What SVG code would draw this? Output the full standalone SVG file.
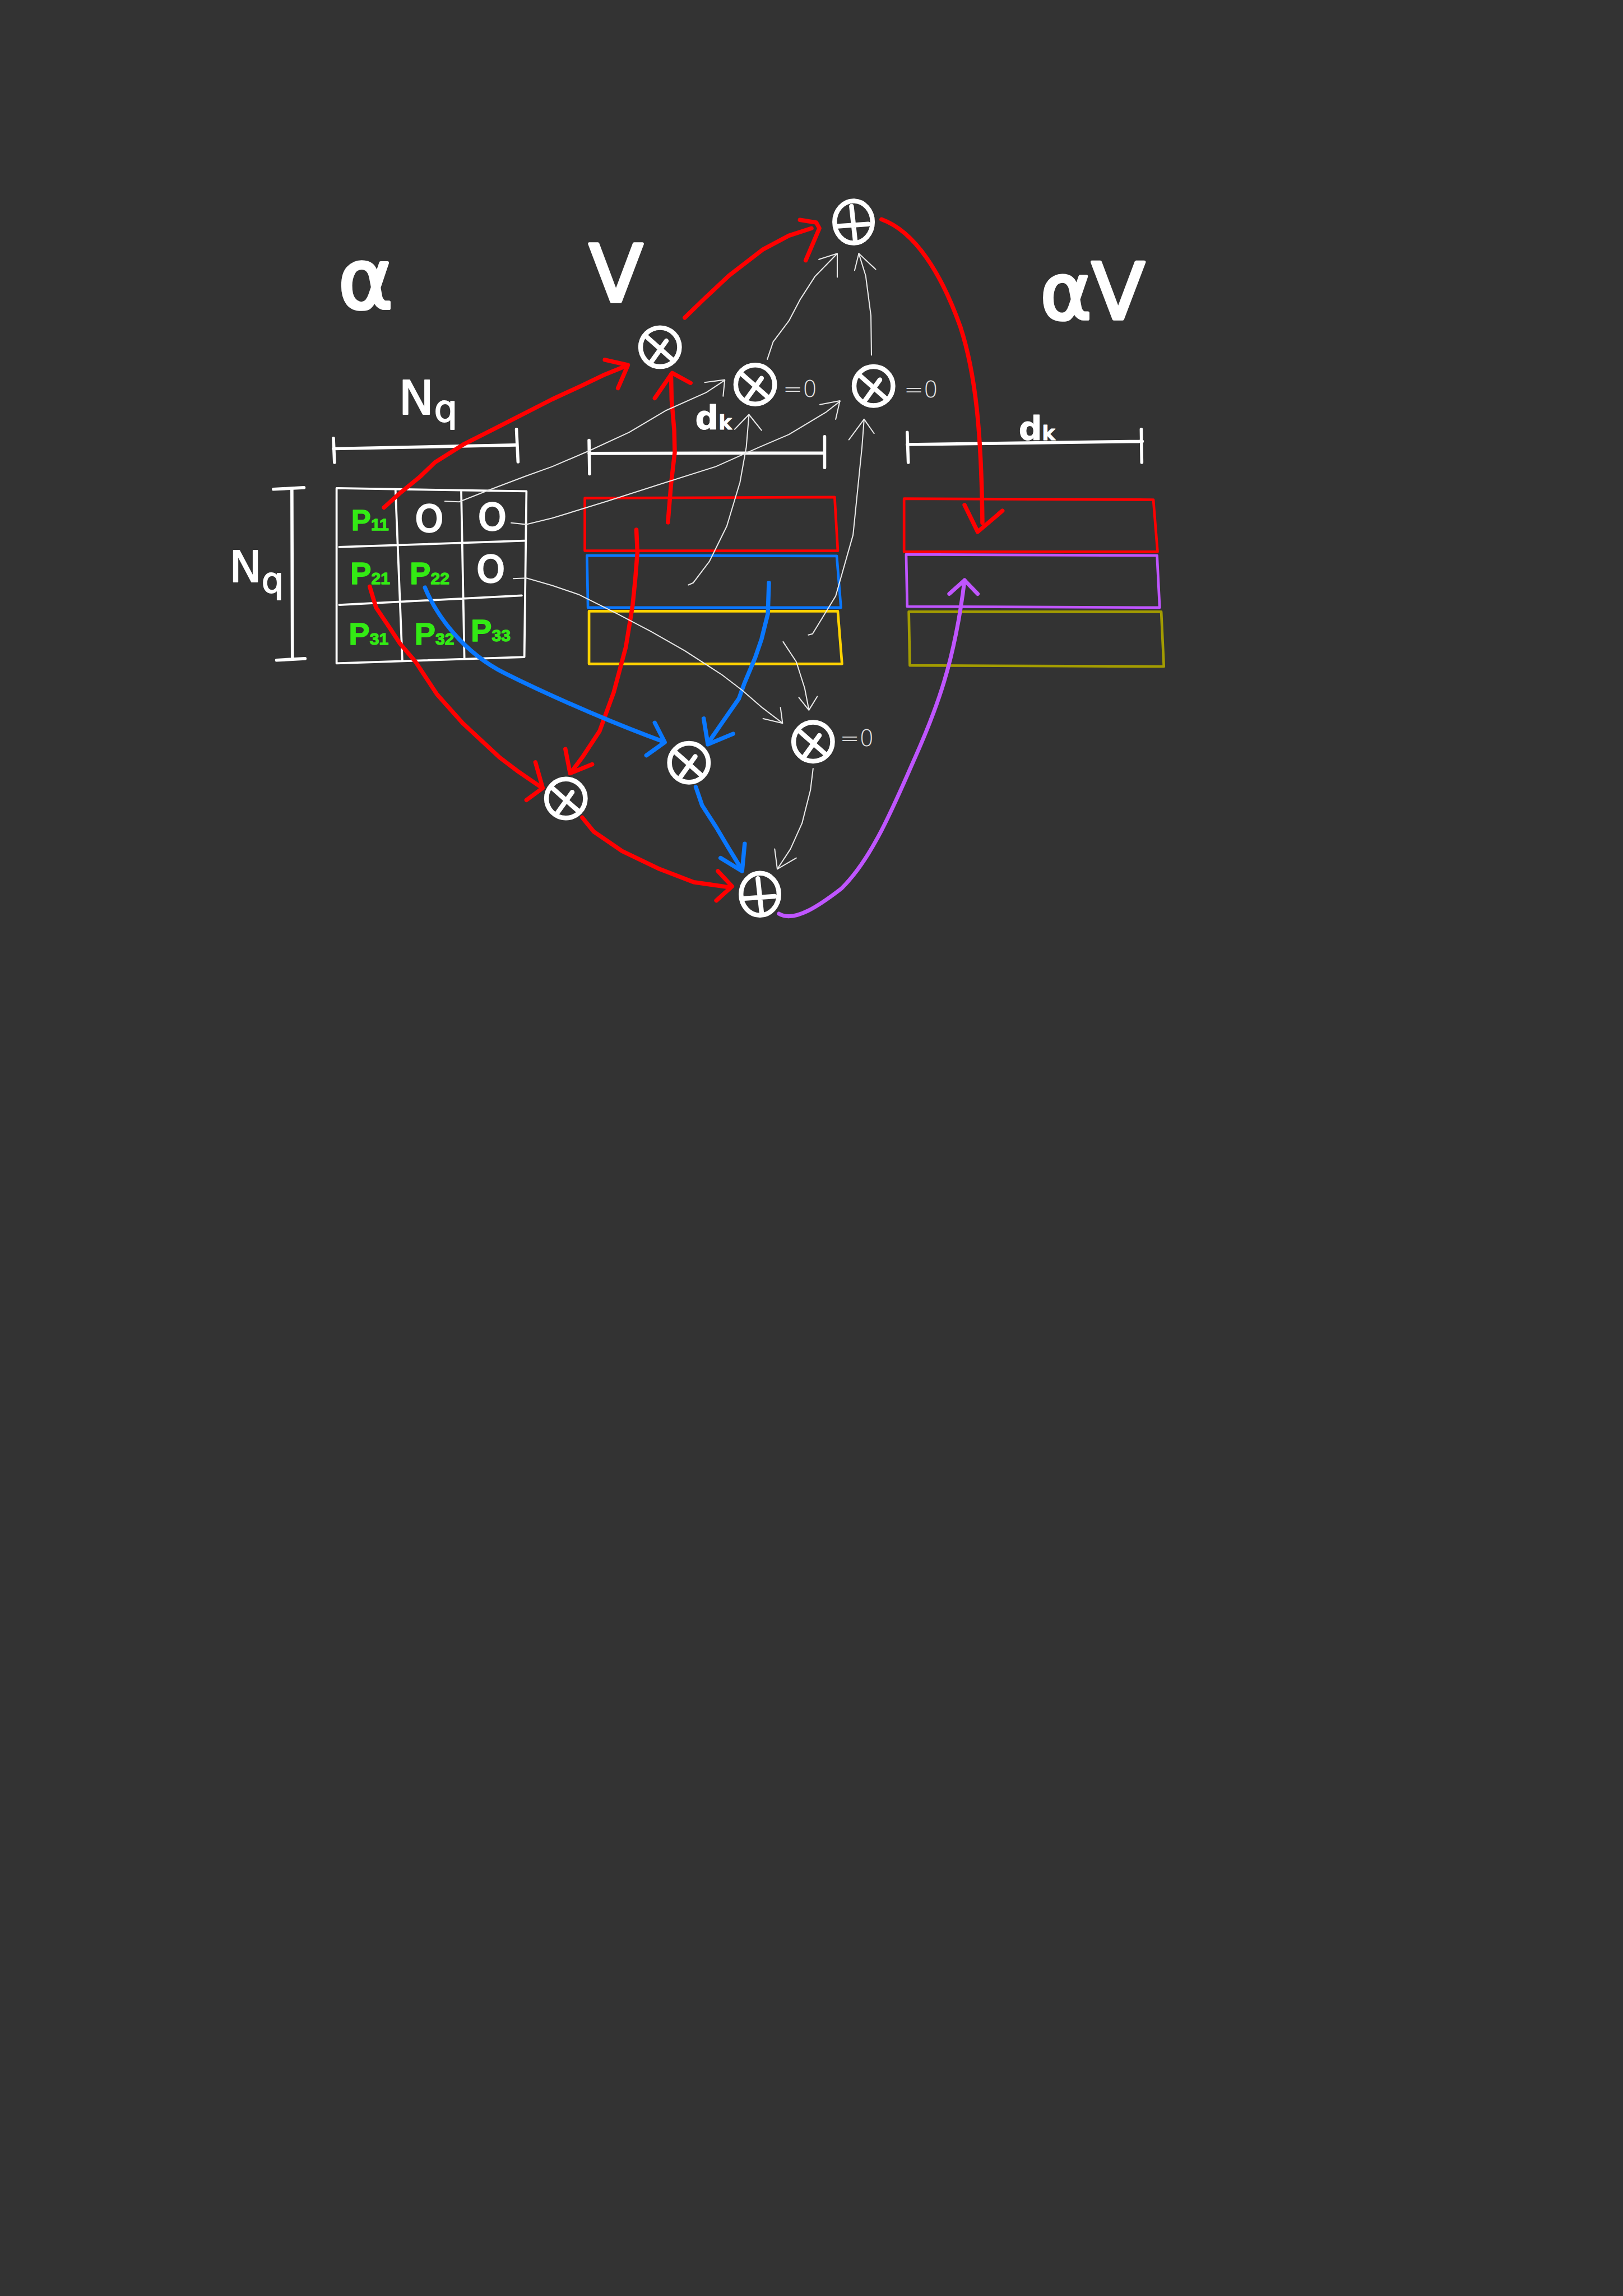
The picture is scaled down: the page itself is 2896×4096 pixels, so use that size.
<svg xmlns="http://www.w3.org/2000/svg" xmlns:xlink="http://www.w3.org/1999/xlink" width="2896" height="4096" viewBox="0 0 2896 4096">
<style>
.bg{fill:#333333}
.w{stroke:#ffffff;fill:none;stroke-linecap:round;stroke-linejoin:round}
.grid{stroke-width:4}
.bar{stroke-width:6}
.nd{stroke:#ffffff;stroke-width:9;fill:none;stroke-linecap:round}
.r{stroke:#ff0000;stroke-width:8;fill:none;stroke-linecap:round;stroke-linejoin:round}
.b{stroke:#0a78ff;stroke-width:8;fill:none;stroke-linecap:round;stroke-linejoin:round}
.p{stroke:#bf55ff;stroke-width:7.5;fill:none;stroke-linecap:round;stroke-linejoin:round}
.t{stroke:#e8e8e8;stroke-width:2.2;fill:none;stroke-linecap:round;stroke-linejoin:round}
.rect{stroke-width:5;fill:none;stroke-linejoin:round;stroke-linecap:round}
.lbl{fill:#ffffff;font-family:"DejaVu Sans",sans-serif;stroke:#ffffff;stroke-linejoin:round}
.big{stroke-width:6}
.mid{stroke-width:2}
.pv{fill:#33ea14;stroke:#33ea14;stroke-width:1.5;stroke-linejoin:round;font-family:"Liberation Sans",sans-serif;font-weight:bold}
.zero{fill:#e2e2e2;font-family:"DejaVu Sans",sans-serif;font-weight:200;font-size:44px}
</style>
<defs>
<g id="otimes"><ellipse cx="0" cy="0" rx="37" ry="37"/><path d="M-27,-21 L25,25 M12,-12 L-16,27"/></g>
<g id="oplus"><ellipse cx="0" cy="0" rx="36" ry="40"/><path d="M-4,-30 L3,34 M-30,8 L28,4"/></g>
</defs>
<rect class="bg" x="0" y="0" width="2896" height="4096"/>
<g transform="scale(0.93843)">

<g id="labels">
<text class="lbl big" x="643" y="586" font-size="158">α</text>
<text class="lbl big" x="1120" y="573" font-size="150">V</text>
<text class="lbl big" x="1978" y="606" font-size="148">αV</text>
<text class="lbl mid" x="758" y="787" font-size="90">N<tspan font-size="70" dy="14">q</tspan></text>
<text class="lbl mid" x="436" y="1106" font-size="82">N<tspan font-size="66" dy="20">q</tspan></text>
<text class="lbl" x="1322" y="816" font-size="62" font-weight="bold" stroke-width="1">d<tspan font-size="38">k</tspan></text>
<text class="lbl" x="1937" y="836" font-size="62" font-weight="bold" stroke-width="1">d<tspan font-size="38">k</tspan></text>
</g>

<g id="alpha-matrix">
<path class="w bar" d="M634,853 L980,846 M634,833 L636,879 M982,816 L985,878"/>
<path class="w bar" d="M520,930 L578,927 M555,930 L556,1250 M526,1255 L580,1252"/>
<path class="w grid" d="M640,928 L1001,934 L997,1249 L640,1261 Z M752,932 L765,1255 M877,934 L883,1252 M645,1040 L997,1028 M645,1150 L992,1132"/>
<text class="pv" x="668" y="1008" font-size="56">P<tspan font-size="32">11</tspan></text>
<text class="pv" x="666" y="1110" font-size="60">P<tspan font-size="32">21</tspan></text>
<text class="pv" x="779" y="1110" font-size="60">P<tspan font-size="32">22</tspan></text>
<text class="pv" x="663" y="1225" font-size="60">P<tspan font-size="32">31</tspan></text>
<text class="pv" x="788" y="1225" font-size="60">P<tspan font-size="32">32</tspan></text>
<text class="pv" x="895" y="1219" font-size="60">P<tspan font-size="32">33</tspan></text>
<text class="lbl" x="816" y="1010" font-size="68" stroke-width="3.5" text-anchor="middle">O</text>
<text class="lbl" x="936" y="1007" font-size="68" stroke-width="3.5" text-anchor="middle">O</text>
<text class="lbl" x="933" y="1106" font-size="68" stroke-width="3.5" text-anchor="middle">O</text>
</g>

<g id="v-matrix">
<path class="w bar" d="M1120,862 L1567,861 M1120,837 L1121,901 M1568,830 L1568,889"/>
<path class="rect" stroke="#ff0000" d="M1112,947 L1587,945 L1593,1047 L1112,1047 Z"/>
<path class="rect" stroke="#0a78ff" d="M1116,1056 L1591,1057 L1599,1155 L1118,1155 Z"/>
<path class="rect" stroke="#ffd200" d="M1120,1162 L1593,1162 L1601,1262 L1120,1262 Z"/>
</g>

<g id="av-matrix">
<path class="w bar" d="M1725,845 L2172,839 M1725,822 L1727,879 M2170,816 L2171,879"/>
<path class="rect" stroke="#ff0000" d="M1719,948 L2193,950 L2201,1049 L1719,1049 Z"/>
<path class="rect" stroke="#bf55ff" d="M1723,1054 L2200,1056 L2205,1155 L1725,1153 Z"/>
<path class="rect" stroke="#a39c00" d="M1728,1163 L2208,1163 L2213,1267 L1730,1265 Z"/>
</g>

<g id="node-mul1" class="nd"><use xlink:href="#otimes" transform="translate(1255,660)"/></g>
<g id="node-mul2"><use class="nd" xlink:href="#otimes" transform="translate(1436,731)"/><text class="zero" x="1489" y="754">=0</text></g>
<g id="node-mul3"><use class="nd" xlink:href="#otimes" transform="translate(1661,734)"/><text class="zero" x="1719" y="756">=0</text></g>
<g id="node-sum-top" class="nd"><use xlink:href="#oplus" transform="translate(1623,422)"/></g>
<g id="node-mul4" class="nd"><use xlink:href="#otimes" transform="translate(1076,1518)"/></g>
<g id="node-mul5" class="nd"><use xlink:href="#otimes" transform="translate(1310,1450)"/></g>
<g id="node-mul6"><use class="nd" xlink:href="#otimes" transform="translate(1546,1410)"/><text class="zero" x="1597" y="1418">=0</text></g>
<g id="node-sum-bottom" class="nd"><use xlink:href="#oplus" transform="translate(1445,1700)"/></g>

<g id="connectors">
<path class="r" d="M730,965 L761,937 L800,905 L827,879 L881,845 L960,805 L1050,759 L1104,734 L1150,712 L1192,695"/>
<path class="r" d="M1150,684 L1194,694 L1175,738"/>
<path class="r" d="M1270,993 L1276,920 L1283,860 L1282,818 L1277,760 L1276,712"/>
<path class="r" d="M1245,757 L1278,709 L1313,728"/>
<path class="r" d="M1302,604 L1337,570 L1386,524 L1451,474 L1500,448 L1543,434"/>
<path class="r" d="M1521,418 L1552,423 L1558,434 L1532,495"/>
<path class="r" d="M1676,417 C1740,440 1790,520 1826,621 C1855,710 1866,820 1868,994"/>
<path class="r" d="M1834,960 L1859,1011 L1906,971"/>
<path class="r" d="M1210,1007 L1212,1050 L1208,1100 L1203,1150 L1190,1230 L1167,1316 L1140,1390 L1107,1440 L1086,1468"/>
<path class="r" d="M1075,1424 L1084,1470 L1126,1453"/>
<path class="r" d="M703,1115 L715,1155 L740,1192 L761,1224 L790,1258 L831,1320 L880,1375 L950,1440 L983,1465 L1031,1498"/>
<path class="r" d="M1018,1449 L1032,1498 L1001,1521"/>
<path class="r" d="M1107,1554 L1129,1581 L1183,1618 L1254,1652 L1319,1677 L1389,1687"/>
<path class="r" d="M1365,1656 L1392,1685 L1362,1712"/>
<path class="b" d="M808,1117 C830,1170 880,1240 960,1280 C1060,1330 1180,1380 1262,1410"/>
<path class="b" d="M1245,1374 L1264,1411 L1229,1436"/>
<path class="b" d="M1462,1108 L1460,1167 L1448,1215 L1436,1250 L1415,1300 L1405,1328 L1373,1374 L1346,1413"/>
<path class="b" d="M1338,1366 L1346,1415 L1394,1395"/>
<path class="b" d="M1323,1496 L1335,1531 L1362,1573 L1384,1610 L1411,1654"/>
<path class="b" d="M1370,1631 L1411,1656 L1416,1604"/>
<path class="p" d="M1481,1737 C1510,1755 1560,1720 1600,1689 C1660,1630 1700,1530 1740,1440 C1780,1350 1815,1260 1834,1103"/>
<path class="p" d="M1805,1129 L1834,1103 L1859,1129"/>
<path class="t" d="M846,953 L873,954 L931,931 L1000,905 L1050,887 L1120,857 L1196,822 L1267,780 L1343,746 L1378,723"/>
<path class="t" d="M1340,727 L1378,722 L1375,753"/>
<path class="t" d="M972,994 L1001,997 L1050,985 L1154,953 L1257,920 L1361,887 L1444,850 L1500,826 L1570,784 L1597,763"/>
<path class="t" d="M1559,769 L1597,762 L1589,797"/>
<path class="t" d="M976,1100 L1001,1099 L1050,1113 L1100,1130 L1174,1167 L1237,1200 L1302,1237 L1373,1283 L1411,1312 L1449,1345 L1487,1374"/>
<path class="t" d="M1451,1366 L1488,1375 L1484,1345"/>
<path class="t" d="M1309,1112 L1318,1108 L1349,1067 L1382,1000 L1407,917 L1419,850 L1424,790"/>
<path class="t" d="M1397,816 L1424,788 L1448,818"/>
<path class="t" d="M1537,1207 L1545,1205 L1589,1133 L1622,1017 L1639,850 L1643,797"/>
<path class="t" d="M1614,836 L1643,797 L1662,824"/>
<path class="t" d="M1459,683 L1470,650 L1500,610 L1521,570 L1550,525 L1590,484"/>
<path class="t" d="M1557,493 L1592,482 L1592,527"/>
<path class="t" d="M1657,675 L1656,600 L1646,524 L1633,482"/>
<path class="t" d="M1625,514 L1633,482 L1665,512"/>
<path class="t" d="M1489,1220 L1514,1258 L1530,1308 L1538,1349"/>
<path class="t" d="M1519,1326 L1538,1350 L1554,1324"/>
<path class="t" d="M1546,1461 L1541,1502 L1525,1565 L1503,1614 L1478,1652"/>
<path class="t" d="M1473,1614 L1478,1652 L1514,1631"/>
</g>
</g>
</svg>
